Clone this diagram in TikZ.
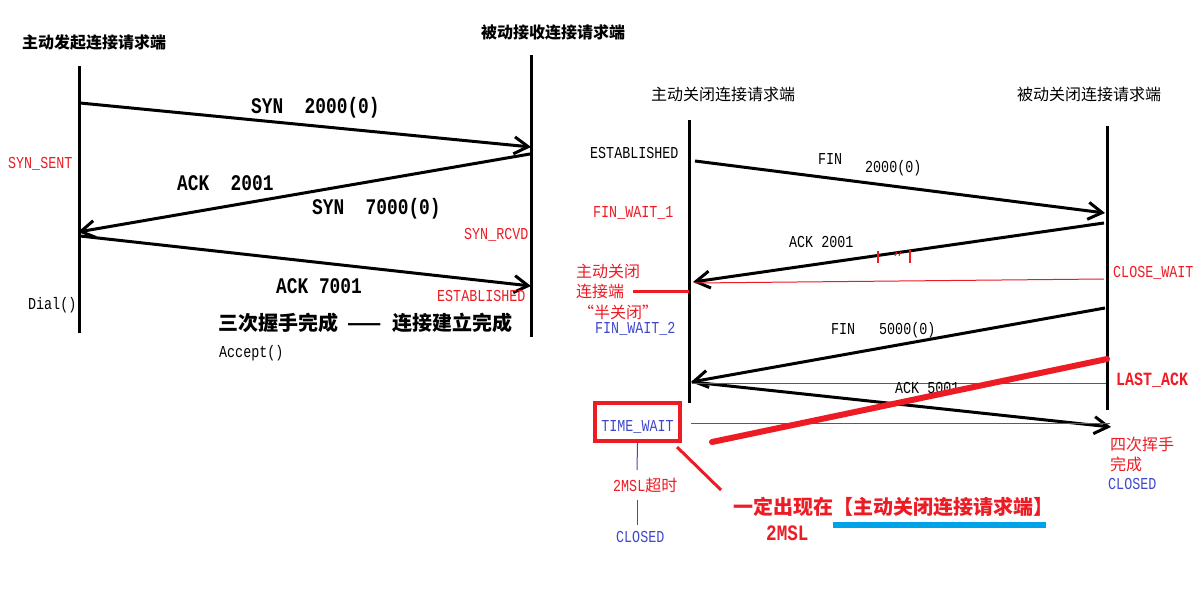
\documentclass[tikz,border=0pt]{standalone}
\usepackage{fontspec}
\newfontfamily\cjk{Noto Sans CJK SC}
\newfontfamily\mono[FakeStretch=0.8]{Liberation Mono}
\usetikzlibrary{arrows.meta}
\definecolor{pred}{RGB}{237,28,36}
\definecolor{pblue}{RGB}{63,72,204}
\definecolor{pcyan}{RGB}{0,162,232}
\begin{document}
\begin{tikzpicture}[x=1pt,y=-1pt,
  txt/.style={inner sep=0pt,anchor=west},
  st/.style={txt,font=\mono\fontsize{16.7}{18}\selectfont,text height=11pt,text depth=0pt},
  stb/.style={txt,font=\mono\bfseries\fontsize{22.3}{24}\selectfont,text height=14.7pt,text depth=0pt},
  lastack/.style={txt,font=\mono\bfseries\fontsize{18.7}{20}\selectfont,text height=12.3pt,text depth=0pt},
  zh/.style={txt,font=\cjk\fontsize{16}{18}\selectfont,text height=14pt,text depth=2pt},
  zhb/.style={txt,font=\cjk\bfseries\fontsize{16}{18}\selectfont,text height=14pt,text depth=2pt},
  zhbig/.style={txt,font=\cjk\bfseries\fontsize{20}{22}\selectfont,text height=17.6pt,text depth=2.4pt},
  life/.style={line width=3pt},
  msg/.style={line width=3pt,-{Straight Barb[length=14pt,width=17pt]}},
  thinred/.style={pred,line width=1pt},
  bluelink/.style={pblue,line width=1pt},
]
\useasboundingbox[fill=white] (0,0) rectangle (1198,609);

% ---------- left diagram: three-way handshake ----------
\coordinate (La1) at (79,66);   \coordinate (La2) at (79,333);
\coordinate (Lb1) at (531,55);  \coordinate (Lb2) at (531,337);
\draw[life] (La1) -- (La2);
\draw[life] (Lb1) -- (Lb2);

\coordinate (s1) at (80,103);  \coordinate (e1) at (531,147);
\coordinate (s2) at (530,154); \coordinate (e2) at (78,232);
\coordinate (s3) at (80,236);  \coordinate (e3) at (531,286);
\draw[msg] (s1) -- (e1);
\draw[msg] (s2) -- (e2);
\draw[msg] (s3) -- (e3);

\node[zhb] (h1) at (22,43) {主动发起连接请求端};
\node[zhb] (h2) at (481,33) {被动接收连接请求端};
\node[stb] (m1) at (251,106) {SYN\ \ 2000(0)};
\node[st,text=pred] (ss) at (8,163) {SYN\_SENT};
\node[stb] (m2) at (177,183) {ACK\ \ 2001};
\node[stb] (m3) at (312,207) {SYN\ \ 7000(0)};
\node[st,text=pred] (sr) at (464,234) {SYN\_RCVD};
\node[stb] (m4) at (276,286) {ACK 7001};
\node[st,text=pred] (es1) at (437,296) {ESTABLISHED};
\node[st] (dial) at (28,304) {Dial()};
\node[zhbig] (done3) at (218,323) {三次握手完成\hspace{9pt}——\hspace{11pt}连接建立完成};
\node[st] (acc) at (219,352) {Accept()};

% ---------- right diagram: four-way close ----------
\coordinate (Ra1) at (689,120);  \coordinate (Ra2) at (689,403);
\coordinate (Rb1) at (1107,126); \coordinate (Rb2) at (1107,410);
\draw[life] (Ra1) -- (Ra2);
\draw[life] (Rb1) -- (Rb2);

\coordinate (f1s) at (695,161);  \coordinate (f1e) at (1105,213);
\coordinate (a1s) at (1104,223); \coordinate (a1e) at (693,282);
\coordinate (f2s) at (1105,308); \coordinate (f2e) at (691,382);
\coordinate (a2s) at (692,382);  \coordinate (a2e) at (1111,427);
\draw[msg] (f1s) -- (f1e);
\draw[msg] (a1s) -- (a1e);
\draw[msg] (f2s) -- (f2e);
\draw[msg] (a2s) -- (a2e);

% thin red guide lines
\coordinate (r1a) at (1104,279); \coordinate (r1b) at (695,283);
\coordinate (r2a) at (1106,383); \coordinate (r2b) at (692,383);
\coordinate (r3a) at (691,423);  \coordinate (r3b) at (1110,423);
\draw[thinred] (r1a) -- (r1b);
\draw[thinred] (r2a) -- (r2b);
\draw[thinred] (r3a) -- (r3b);

% small red marks on the ACK 2001 line
\draw[pred,line width=1.5pt] (878,251) -- (878,263);
\draw[pred,line width=1.5pt] (910,250) -- (910,263);
\draw[pred,line width=1pt] (895,256) -- (896.5,252) (899,256) -- (900.5,252);

\node[zh] (h3) at (651,95) {主动关闭连接请求端};
\node[zh] (h4) at (1017,95) {被动关闭连接请求端};
\node[st] (es2) at (590,153) {ESTABLISHED};
\node[st] (fin1) at (818,159) {FIN};
\node[st] (fin1n) at (865,167) {2000(0)};
\node[st,text=pred] (fw1) at (593,212) {FIN\_WAIT\_1};
\node[st] (ack1) at (789,242) {ACK 2001};
\node[st,text=pred] (cw) at (1113,272) {CLOSE\_WAIT};
\node[zh,text=pred] (half1) at (576,272) {主动关闭};
\node[zh,text=pred] (half2) at (576,292) {连接端};
\node[zh,text=pred] (half3) at (578,312) {“半关闭”};
\coordinate (hl) at (633,292);
\draw[pred,line width=3pt] (hl) -- (689,292);
\node[st,text=pblue] (fw2) at (595,328) {FIN\_WAIT\_2};
\node[st] (fin2) at (831,329) {FIN};
\node[st] (fin2n) at (879,329) {5000(0)};
\node[lastack,text=pred] (la) at (1116,379) {LAST\_ACK};
\node[st] (ack2) at (895,388) {ACK 5001};

% thick red stroke
\coordinate (tk1) at (1107,359); \coordinate (tk2) at (712,442);
\draw[pred,line width=6pt,line cap=round] (tk1) -- (tk2);

% TIME_WAIT box
\node[draw=pred,line width=4pt,minimum width=85pt,minimum height=38pt,inner sep=0pt,
      font=\mono\fontsize{16.7}{18}\selectfont,text height=19pt,text depth=0pt,text=pblue]
      (tw) at (637.5,422) {TIME\_WAIT};
\coordinate (b1) at (637,470);
\coordinate (b2) at (637,500); \coordinate (b3) at (637,525);
\draw[bluelink] (tw.south) -- (b1);
\draw[bluelink] (b2) -- (b3);
\node[txt,font=\cjk\fontsize{16}{18}\selectfont,text height=14pt,text depth=2pt,text=pred] (ms) at (613,485)
  {{\mono\fontsize{16.7}{18}\selectfont 2MSL}超时};
\node[st,text=pblue] (cl1) at (616,537) {CLOSED};

% pointer to the note
\coordinate (p1) at (677,447); \coordinate (p2) at (721,490);
\draw[pred,line width=3pt] (p1) -- (p2);
\node[zhbig,text=pred] (note) at (733,507) {一定出现在【主动关闭连接请求端】};
\draw[pcyan,line width=6pt] (833,525) -- (1046,525);
\node[txt,font=\mono\bfseries\fontsize{22}{24}\selectfont,text height=14.5pt,text depth=0pt,text=pred] (msl) at (766,533) {2MSL};

\node[zh,text=pred] (w1) at (1110,444) {四次挥手};
\node[zh,text=pred] (w2) at (1110,464) {完成};
\node[st,text=pblue] (cl2) at (1108,484) {CLOSED};
\end{tikzpicture}
\end{document}
